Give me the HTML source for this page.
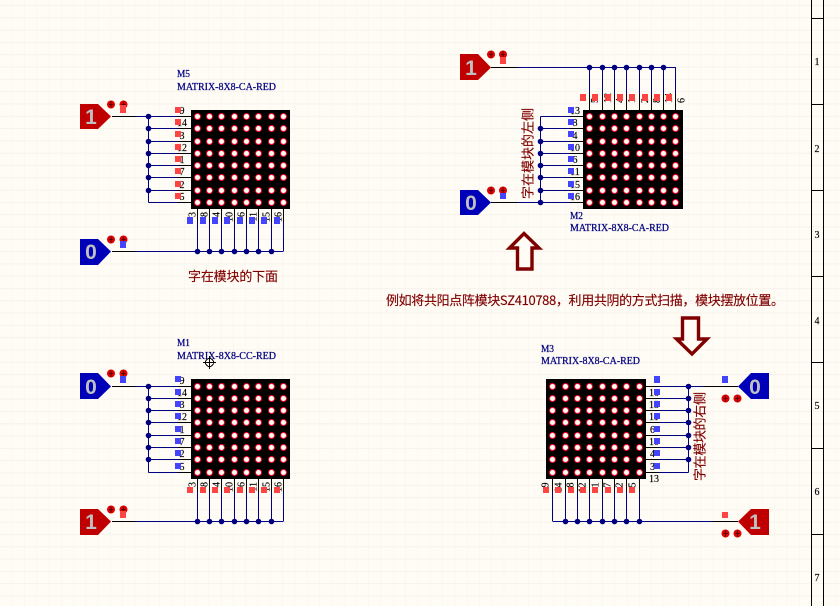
<!DOCTYPE html>
<html><head><meta charset="utf-8"><style>
html,body{margin:0;padding:0;background:#fffcf6;width:840px;height:606px;overflow:hidden}
svg{display:block}
.w{fill:none;stroke-width:1;shape-rendering:crispEdges}
.k{stroke:#000}.n{stroke:#000080}
.p{font:10px "Liberation Serif",serif;fill:#000;stroke:#000;stroke-width:.15}
.m{font:10px "Liberation Serif",serif;fill:#000080;stroke:#000080;stroke-width:.25}
.c{font:13px "Noto Sans CJK SC","WenQuanYi Zen Hei",sans-serif;fill:#800000;stroke:#800000;stroke-width:.15}
.v{font:bold 21px "Liberation Sans",sans-serif;fill:#c0c0c0;text-anchor:middle}
.r{fill:#ff4444}.b{fill:#4444ff}
</style></head><body>
<svg xmlns="http://www.w3.org/2000/svg" width="840" height="606" viewBox="0 0 840 606">
<defs>
<pattern id="grid" x="0" y="5" width="12.3" height="12.3" patternUnits="userSpaceOnUse"><path d="M12.3 0V12.3M0 .5H12.3" fill="none" stroke="#f7f3ec" stroke-width="1.2"/></pattern>
<g id="d"><circle r="3.5" fill="#ff0030"/><circle r="2.5" fill="#fffff0"/></g>
<g id="cA"><use href="#d" y="116.5"/><use href="#d" y="128.5"/><use href="#d" y="141.5"/><use href="#d" y="153.5"/><use href="#d" y="165.5"/><use href="#d" y="177.5"/><use href="#d" y="190.5"/><use href="#d" y="202.5"/></g>
<g id="cB"><use href="#d" y="386.5"/><use href="#d" y="398.5"/><use href="#d" y="410.5"/><use href="#d" y="422.5"/><use href="#d" y="435.5"/><use href="#d" y="447.5"/><use href="#d" y="459.5"/><use href="#d" y="472.5"/></g>
<g id="pw"><circle cx="0" cy="0" r="4" fill="#e00000"/><path d="M0 -3V3M-2 0H2" stroke="#500000" stroke-width="1"/></g>
</defs>
<rect width="840" height="606" fill="#fffcf6"/>
<rect width="840" height="606" fill="url(#grid)"/>

<!-- right border -->
<path class="w k" d="M811.5 0V606M823.5 0V606M811 18.5H824M811 104.5H824M811 190.5H824M811 276.5H824M811 362.5H824M811 448.5H824M811 534.5H824"/>
<g class="p" text-anchor="middle"><text x="817" y="65">1</text><text x="817" y="152">2</text><text x="817" y="238">3</text><text x="817" y="324">4</text><text x="817" y="409">5</text><text x="817" y="495">6</text><text x="817" y="581">7</text></g>

<!-- M5 -->
<path class="w k" d="M112 116.5H136M178 116.5H191M178 128.5H191M178 141.5H191M178 153.5H191M178 165.5H191M178 177.5H191M178 190.5H191M178 202.5H191M197.5 209V222M209.5 209V222M221.5 209V222M234.5 209V222M246.5 209V222M258.5 209V222M271.5 209V222M283.5 209V222M112 251.5H136"/>
<path class="w n" d="M136 116.5H178M148.5 128.5H178M148.5 141.5H178M148.5 153.5H178M148.5 165.5H178M148.5 177.5H178M148.5 190.5H178M148.5 202.5H178M148.5 116.5V202.5M136 251.5H283.5M197.5 222V251M209.5 222V251M221.5 222V251M234.5 222V251M246.5 222V251M258.5 222V251M271.5 222V251M283.5 222V251"/>
<g fill="#000080"><circle cx="148.5" cy="116.5" r="2.8"/><circle cx="148.5" cy="128.5" r="2.8"/><circle cx="148.5" cy="141.5" r="2.8"/><circle cx="148.5" cy="153.5" r="2.8"/><circle cx="148.5" cy="165.5" r="2.8"/><circle cx="148.5" cy="177.5" r="2.8"/><circle cx="148.5" cy="190.5" r="2.8"/><circle cx="197.5" cy="251.5" r="2.8"/><circle cx="209.5" cy="251.5" r="2.8"/><circle cx="221.5" cy="251.5" r="2.8"/><circle cx="234.5" cy="251.5" r="2.8"/><circle cx="246.5" cy="251.5" r="2.8"/><circle cx="258.5" cy="251.5" r="2.8"/><circle cx="271.5" cy="251.5" r="2.8"/></g>
<rect x="191" y="110" width="99" height="99" fill="#000"/>
<use href="#cA" x="197.5"/><use href="#cA" x="209.5"/><use href="#cA" x="221.5"/><use href="#cA" x="234.5"/><use href="#cA" x="246.5"/><use href="#cA" x="258.5"/><use href="#cA" x="271.5"/><use href="#cA" x="283.5"/>
<g class="p" text-anchor="middle"><text x="182" y="114">9</text><text x="182" y="126">14</text><text x="182" y="139">3</text><text x="182" y="151">12</text><text x="182" y="163">1</text><text x="182" y="175">7</text><text x="182" y="188">2</text><text x="182" y="200">5</text></g>
<g class="p" text-anchor="end"><text transform="translate(195.5,212) rotate(-90)">3</text><text transform="translate(207.5,212) rotate(-90)">8</text><text transform="translate(219.5,212) rotate(-90)">4</text><text transform="translate(232.5,212) rotate(-90)">10</text><text transform="translate(244.5,212) rotate(-90)">6</text><text transform="translate(256.5,212) rotate(-90)">11</text><text transform="translate(269.5,212) rotate(-90)">15</text><text transform="translate(281.5,212) rotate(-90)">16</text></g>
<g class="r"><rect x="175" y="107" width="6" height="6"/><rect x="175" y="119" width="6" height="6"/><rect x="175" y="131" width="6" height="6"/><rect x="175" y="144" width="6" height="6"/><rect x="175" y="156" width="6" height="6"/><rect x="175" y="168" width="6" height="6"/><rect x="175" y="181" width="6" height="6"/><rect x="175" y="193" width="6" height="6"/></g>
<g class="b"><rect x="187" y="217" width="6" height="7"/><rect x="200" y="217" width="6" height="7"/><rect x="212" y="217" width="6" height="7"/><rect x="224" y="217" width="6" height="7"/><rect x="237" y="217" width="6" height="7"/><rect x="249" y="217" width="6" height="7"/><rect x="261" y="217" width="6" height="7"/><rect x="274" y="217" width="6" height="7"/></g>
<text class="m" x="177" y="77" textLength="13" lengthAdjust="spacingAndGlyphs">M5</text>
<text class="m" x="177" y="90" textLength="99" lengthAdjust="spacingAndGlyphs">MATRIX-8X8-CA-RED</text>
<polygon points="80,104 98,104 111,116.5 98,129 80,129" fill="#c00000"/><text class="v" x="91" y="124">1</text>
<use href="#pw" x="111" y="104.5"/><use href="#pw" x="123.5" y="104.5"/><rect class="r" x="120" y="105" width="6" height="8"/>
<polygon points="80,239 98,239 111,251.5 98,265 80,265" fill="#0000b8"/><text class="v" x="91" y="259">0</text>
<use href="#pw" x="111" y="239.5"/><use href="#pw" x="123.5" y="239.5"/><rect class="b" x="120" y="241" width="6" height="7"/>
<text class="c" x="188" y="281" textLength="90">字在模块的下面</text>

<!-- M2 -->
<path class="w k" d="M491 67.5H517M589.5 94V110M602.5 94V110M614.5 94V110M626.5 94V110M639.5 94V110M651.5 94V110M663.5 94V110M675.5 94V110M491 202.5H517M570 116.5H583M570 128.5H583M570 141.5H583M570 153.5H583M570 165.5H583M570 177.5H583M570 190.5H583M570 202.5H583"/>
<path class="w n" d="M517 67.5H675.5M589.5 67V94M602.5 67V94M614.5 67V94M626.5 67V94M639.5 67V94M651.5 67V94M663.5 67V94M675.5 67V94M517 202.5H570M540.5 116.5H570M540.5 128.5H570M540.5 141.5H570M540.5 153.5H570M540.5 165.5H570M540.5 177.5H570M540.5 190.5H570M540.5 116.5V202.5"/>
<g fill="#000080"><circle cx="589.5" cy="67.5" r="2.8"/><circle cx="602.5" cy="67.5" r="2.8"/><circle cx="614.5" cy="67.5" r="2.8"/><circle cx="626.5" cy="67.5" r="2.8"/><circle cx="639.5" cy="67.5" r="2.8"/><circle cx="651.5" cy="67.5" r="2.8"/><circle cx="663.5" cy="67.5" r="2.8"/><circle cx="540.5" cy="128.5" r="2.8"/><circle cx="540.5" cy="141.5" r="2.8"/><circle cx="540.5" cy="153.5" r="2.8"/><circle cx="540.5" cy="165.5" r="2.8"/><circle cx="540.5" cy="177.5" r="2.8"/><circle cx="540.5" cy="190.5" r="2.8"/><circle cx="540.5" cy="202.5" r="2.8"/></g>
<rect x="583" y="110" width="100" height="99" fill="#000"/>
<use href="#cA" x="589.5"/><use href="#cA" x="602.5"/><use href="#cA" x="614.5"/><use href="#cA" x="626.5"/><use href="#cA" x="639.5"/><use href="#cA" x="651.5"/><use href="#cA" x="663.5"/><use href="#cA" x="675.5"/>
<g class="p"><text transform="translate(598,103) rotate(-90)">5</text><text transform="translate(611,103) rotate(-90)">12</text><text transform="translate(623,103) rotate(-90)">4</text><text transform="translate(635,103) rotate(-90)">1</text><text transform="translate(648,103) rotate(-90)">2</text><text transform="translate(660,103) rotate(-90)">8</text><text transform="translate(672,103) rotate(-90)">14</text><text transform="translate(684.5,103) rotate(-90)">6</text></g>
<g class="p" text-anchor="middle"><text x="575" y="114">13</text><text x="575" y="126">8</text><text x="575" y="139">4</text><text x="575" y="151">10</text><text x="575" y="163">6</text><text x="575" y="175">11</text><text x="575" y="188">15</text><text x="575" y="200">16</text></g>
<g class="r"><rect x="580" y="94" width="6" height="7"/><rect x="592" y="94" width="6" height="7"/><rect x="605" y="94" width="6" height="7"/><rect x="617" y="94" width="6" height="7"/><rect x="629" y="94" width="6" height="7"/><rect x="642" y="94" width="6" height="7"/><rect x="654" y="94" width="6" height="7"/><rect x="666" y="94" width="6" height="7"/></g>
<g class="b"><rect x="568" y="107" width="6" height="6"/><rect x="568" y="119" width="6" height="6"/><rect x="568" y="131" width="6" height="6"/><rect x="568" y="144" width="6" height="6"/><rect x="568" y="156" width="6" height="6"/><rect x="568" y="168" width="6" height="6"/><rect x="568" y="181" width="6" height="6"/><rect x="568" y="193" width="6" height="6"/></g>
<text class="m" x="570" y="219" textLength="13" lengthAdjust="spacingAndGlyphs">M2</text>
<text class="m" x="570" y="231" textLength="99" lengthAdjust="spacingAndGlyphs">MATRIX-8X8-CA-RED</text>
<polygon points="460,54 478,54 491,67.5 478,80 460,80" fill="#c00000"/><text class="v" x="471" y="75">1</text>
<use href="#pw" x="491" y="54.5"/><use href="#pw" x="503" y="54.5"/><rect class="r" x="500" y="57" width="6" height="7"/>
<polygon points="460,190 478,190 491,202.5 478,215 460,215" fill="#0000b8"/><text class="v" x="471" y="210">0</text>
<use href="#pw" x="491" y="190.5"/><use href="#pw" x="503" y="190.5"/><rect class="b" x="500" y="193" width="6" height="6"/>
<text class="c" transform="translate(532.5,199) rotate(-90)" textLength="91">字在模块的左侧</text>
<polygon points="524,233.5 539,248 532,248 532,269 517.5,269 517.5,248 509.5,248" fill="#fffcf6" stroke="#800000" stroke-width="3.4"/>

<!-- caption -->
<text class="c" x="386" y="305" textLength="398">例如将共阳点阵模块SZ410788，利用共阴的方式扫描，模块摆放位置。</text>
<polygon points="682.5,318 698.5,318 698.5,339 707,339 692,354 676.5,339 682.5,339" fill="#fffcf6" stroke="#800000" stroke-width="3.4"/>

<!-- M1 -->
<path class="w k" d="M112 386.5H136M178 386.5H191M178 398.5H191M178 410.5H191M178 422.5H191M178 435.5H191M178 447.5H191M178 459.5H191M178 472.5H191M197.5 479V492M209.5 479V492M221.5 479V492M234.5 479V492M246.5 479V492M258.5 479V492M271.5 479V492M283.5 479V492M112 521.5H136"/>
<path class="w n" d="M136 386.5H178M148.5 398.5H178M148.5 410.5H178M148.5 422.5H178M148.5 435.5H178M148.5 447.5H178M148.5 459.5H178M148.5 472.5H178M148.5 386.5V472.5M136 521.5H283.5M197.5 492V521M209.5 492V521M221.5 492V521M234.5 492V521M246.5 492V521M258.5 492V521M271.5 492V521M283.5 492V521"/>
<g fill="#000080"><circle cx="148.5" cy="386.5" r="2.8"/><circle cx="148.5" cy="398.5" r="2.8"/><circle cx="148.5" cy="410.5" r="2.8"/><circle cx="148.5" cy="422.5" r="2.8"/><circle cx="148.5" cy="435.5" r="2.8"/><circle cx="148.5" cy="447.5" r="2.8"/><circle cx="148.5" cy="459.5" r="2.8"/><circle cx="197.5" cy="521.5" r="2.8"/><circle cx="209.5" cy="521.5" r="2.8"/><circle cx="221.5" cy="521.5" r="2.8"/><circle cx="234.5" cy="521.5" r="2.8"/><circle cx="246.5" cy="521.5" r="2.8"/><circle cx="258.5" cy="521.5" r="2.8"/><circle cx="271.5" cy="521.5" r="2.8"/></g>
<rect x="191" y="379" width="99" height="100" fill="#000"/>
<use href="#cB" x="197.5"/><use href="#cB" x="209.5"/><use href="#cB" x="221.5"/><use href="#cB" x="234.5"/><use href="#cB" x="246.5"/><use href="#cB" x="258.5"/><use href="#cB" x="271.5"/><use href="#cB" x="283.5"/>
<g class="p" text-anchor="middle"><text x="182" y="384">9</text><text x="182" y="396">14</text><text x="182" y="408">3</text><text x="182" y="420">12</text><text x="182" y="433">1</text><text x="182" y="445">7</text><text x="182" y="457">2</text><text x="182" y="470">5</text></g>
<g class="p" text-anchor="end"><text transform="translate(195.5,482) rotate(-90)">3</text><text transform="translate(207.5,482) rotate(-90)">8</text><text transform="translate(219.5,482) rotate(-90)">4</text><text transform="translate(232.5,482) rotate(-90)">10</text><text transform="translate(244.5,482) rotate(-90)">6</text><text transform="translate(256.5,482) rotate(-90)">11</text><text transform="translate(269.5,482) rotate(-90)">15</text><text transform="translate(281.5,482) rotate(-90)">16</text></g>
<g class="b"><rect x="175" y="376" width="6" height="6"/><rect x="175" y="389" width="6" height="6"/><rect x="175" y="401" width="6" height="6"/><rect x="175" y="413" width="6" height="6"/><rect x="175" y="426" width="6" height="6"/><rect x="175" y="438" width="6" height="6"/><rect x="175" y="450" width="6" height="6"/><rect x="175" y="463" width="6" height="6"/></g>
<g class="r"><rect x="187" y="487" width="6" height="6"/><rect x="200" y="487" width="6" height="6"/><rect x="212" y="487" width="6" height="6"/><rect x="224" y="487" width="6" height="6"/><rect x="237" y="487" width="6" height="6"/><rect x="249" y="487" width="6" height="6"/><rect x="261" y="487" width="6" height="6"/><rect x="274" y="487" width="6" height="6"/></g>
<text class="m" x="177" y="346" textLength="13" lengthAdjust="spacingAndGlyphs">M1</text>
<text class="m" x="177" y="359" textLength="99" lengthAdjust="spacingAndGlyphs">MATRIX-8X8-CC-RED</text>
<g fill="none" stroke="#000" stroke-width="1" shape-rendering="crispEdges"><circle cx="209.5" cy="362.5" r="4"/><path d="M209.5 356V369M203 362.5H216"/></g>
<polygon points="80,373 98,373 111,386.5 98,399 80,399" fill="#0000b8"/><text class="v" x="91" y="394">0</text>
<use href="#pw" x="111" y="373.5"/><use href="#pw" x="123.5" y="373.5"/><rect class="b" x="120" y="376" width="6" height="7"/>
<polygon points="80,509 98,509 111,521.5 98,535 80,535" fill="#c00000"/><text class="v" x="91" y="529">1</text>
<use href="#pw" x="111" y="509.5"/><use href="#pw" x="123.5" y="509.5"/><rect class="r" x="120" y="511" width="6" height="7"/>

<!-- M3 -->
<path class="w k" d="M738 386.5H703M646 386.5H659M646 398.5H659M646 410.5H659M646 422.5H659M646 435.5H659M646 447.5H659M646 459.5H659M646 472.5H659M552.5 479V492M565.5 479V492M577.5 479V492M589.5 479V492M602.5 479V492M614.5 479V492M626.5 479V492M639.5 479V492M738 521.5H712"/>
<path class="w n" d="M703 386.5H659M688.5 398.5H659M688.5 410.5H659M688.5 422.5H659M688.5 435.5H659M688.5 447.5H659M688.5 459.5H659M688.5 472.5H659M688.5 386.5V472.5M712 521.5H552.5M552.5 492V521M565.5 492V521M577.5 492V521M589.5 492V521M602.5 492V521M614.5 492V521M626.5 492V521M639.5 492V521"/>
<g fill="#000080"><circle cx="688.5" cy="386.5" r="2.8"/><circle cx="688.5" cy="398.5" r="2.8"/><circle cx="688.5" cy="410.5" r="2.8"/><circle cx="688.5" cy="422.5" r="2.8"/><circle cx="688.5" cy="435.5" r="2.8"/><circle cx="688.5" cy="447.5" r="2.8"/><circle cx="688.5" cy="459.5" r="2.8"/><circle cx="565.5" cy="521.5" r="2.8"/><circle cx="577.5" cy="521.5" r="2.8"/><circle cx="589.5" cy="521.5" r="2.8"/><circle cx="602.5" cy="521.5" r="2.8"/><circle cx="614.5" cy="521.5" r="2.8"/><circle cx="626.5" cy="521.5" r="2.8"/><circle cx="639.5" cy="521.5" r="2.8"/></g>
<rect x="546" y="379" width="100" height="100" fill="#000"/>
<use href="#cB" x="552.5"/><use href="#cB" x="565.5"/><use href="#cB" x="577.5"/><use href="#cB" x="589.5"/><use href="#cB" x="602.5"/><use href="#cB" x="614.5"/><use href="#cB" x="626.5"/><use href="#cB" x="639.5"/>
<g class="p"><text x="649" y="396">16</text><text x="649" y="408">15</text><text x="649" y="420">11</text><text x="650" y="433">6</text><text x="649" y="445">10</text><text x="650" y="457">4</text><text x="650" y="470">3</text><text x="649" y="482">13</text></g>
<g class="p" text-anchor="end"><text transform="translate(548.5,482.5) rotate(-90)">9</text><text transform="translate(561.5,482.5) rotate(-90)">14</text><text transform="translate(573.5,482.5) rotate(-90)">8</text><text transform="translate(585.5,482.5) rotate(-90)">12</text><text transform="translate(598.5,482.5) rotate(-90)">1</text><text transform="translate(610.5,482.5) rotate(-90)">7</text><text transform="translate(622.5,482.5) rotate(-90)">2</text><text transform="translate(635.5,482.5) rotate(-90)">5</text></g>
<g class="b"><rect x="654" y="376" width="6" height="7"/><rect x="654" y="389" width="6" height="6"/><rect x="654" y="401" width="6" height="6"/><rect x="654" y="413" width="6" height="6"/><rect x="654" y="426" width="6" height="6"/><rect x="654" y="438" width="6" height="6"/><rect x="654" y="450" width="6" height="6"/><rect x="654" y="463" width="6" height="6"/><rect x="722" y="376" width="6" height="7"/></g>
<g class="r"><rect x="543" y="487" width="6" height="6"/><rect x="555" y="487" width="6" height="6"/><rect x="568" y="487" width="6" height="6"/><rect x="580" y="487" width="6" height="6"/><rect x="592" y="487" width="6" height="6"/><rect x="605" y="487" width="6" height="6"/><rect x="617" y="487" width="6" height="6"/><rect x="629" y="487" width="6" height="6"/><rect x="722" y="512" width="6" height="6"/></g>
<text class="m" x="541" y="352" textLength="13" lengthAdjust="spacingAndGlyphs">M3</text>
<text class="m" x="541" y="364" textLength="99" lengthAdjust="spacingAndGlyphs">MATRIX-8X8-CA-RED</text>
<polygon points="769,373 751,373 738,386.5 751,399 769,399" fill="#0000b8"/><text class="v" x="755" y="394">0</text>
<use href="#pw" x="725.5" y="398.5"/><use href="#pw" x="737.5" y="398.5"/>
<polygon points="769,509 751,509 738,521.5 751,535 769,535" fill="#c00000"/><text class="v" x="755" y="529">1</text>
<use href="#pw" x="725.5" y="533.5"/><use href="#pw" x="737.5" y="533.5"/>
<text class="c" transform="translate(704.5,481) rotate(-90)" textLength="89">字在模块的右侧</text>
</svg>
</body></html>
